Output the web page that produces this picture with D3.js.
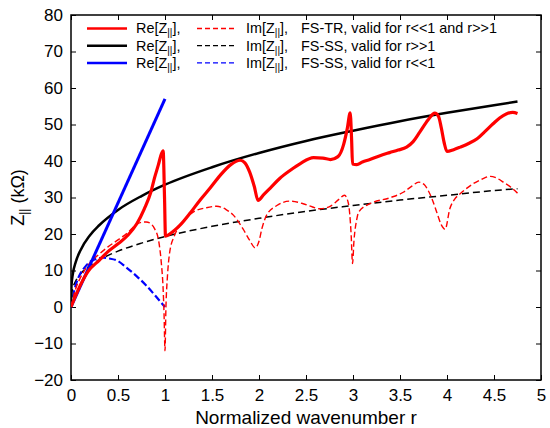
<!DOCTYPE html>
<html>
<head>
<meta charset="UTF-8">
<title>Z parallel vs r</title>
<script src="https://d3js.org/d3.v7.min.js"></script>
<style>
    body { margin: 0; background: #fff; }
    text { font-family: Arial, "Liberation Sans", sans-serif; fill: #000; }
</style>
</head>
<body>
<div id="chart"></div>
<script>
// ---- data ----
const xTicks = [0, 0.5, 1, 1.5, 2, 2.5, 3, 3.5, 4, 4.5, 5];
const yTicks = [-20, -10, 0, 10, 20, 30, 40, 50, 60, 70, 80];

// FS-TR (red)
const trReR = [0, 0.1, 0.18, 0.3, 0.39, 0.5, 0.61, 0.7, 0.78, 0.85, 0.89, 0.93, 0.96, 0.98, 0.995, 1.005,
    1.05, 1.16, 1.27, 1.37, 1.48, 1.585, 1.7, 1.8, 1.85, 1.9, 1.95, 1.99, 2.05, 2.12, 2.22, 2.33, 2.44,
    2.58, 2.68, 2.76, 2.84, 2.9, 2.94, 2.97, 2.985, 2.995, 3.04, 3.1, 3.18, 3.28, 3.39, 3.48, 3.57, 3.64,
    3.71, 3.8, 3.87, 3.91, 3.94, 3.97, 4.0, 4.07, 4.14, 4.23, 4.32, 4.4, 4.49, 4.56, 4.63, 4.7, 4.75];
const trRe = [0, 6.0, 9.7, 12.8, 15.1, 17.3, 19.8, 22.8, 26.9, 31.5, 35.5, 39.0, 41.8, 42.8, 30, 19.4,
    20.0, 22.4, 25.8, 29.2, 32.6, 36.0, 39.0, 40.2, 39.5, 37.0, 33.0, 29.2, 30.8, 32.6, 35.2, 37.4, 39.3,
    40.9, 40.8, 40.4, 41.2, 44.5, 49.0, 53.2, 46.0, 39.2, 39.0, 39.7, 40.4, 41.4, 42.3, 43.0, 43.8, 45.3,
    47.9, 51.3, 53.1, 52.2, 49.0, 45.0, 42.6, 43.1, 43.8, 44.8, 46.1, 48.0, 50.2, 51.8, 52.9, 53.3, 53.0];

const trImR = [0, 0.05, 0.1, 0.18, 0.3, 0.39, 0.5, 0.61, 0.68, 0.75, 0.8, 0.85, 0.89, 0.93, 0.96, 0.98,
    0.99, 1.0, 1.01, 1.025, 1.05, 1.1, 1.16, 1.23, 1.3, 1.44, 1.55, 1.65, 1.73, 1.83, 1.9, 1.96, 2.0, 2.03,
    2.08, 2.19, 2.33, 2.47, 2.57, 2.65, 2.77, 2.85, 2.91, 2.95, 2.98, 2.995, 3.01, 3.04, 3.06, 3.18, 3.39,
    3.54, 3.63, 3.7, 3.76, 3.8, 3.85, 3.89, 3.94, 3.98, 4.03, 4.08, 4.14, 4.28, 4.37, 4.46, 4.53, 4.6,
    4.68, 4.75];
const trIm = [0, 5.0, 8.0, 11.4, 14.5, 16.4, 18.4, 20.5, 22.3, 23.2, 23.3, 22.8, 21.4, 18.5, 12.3, 5.0,
    -2.0, -12.0, 0, 8.0, 15.0, 19.5, 22.4, 24.6, 26.0, 27.2, 27.6, 26.7, 25.1, 21.4, 18.3, 16.2, 18.0, 21.4,
    25.1, 27.8, 29.0, 28.3, 27.4, 26.9, 27.8, 29.5, 30.6, 28.5, 20.0, 11.9, 18.0, 24.0, 26.0, 28.3, 29.9,
    31.5, 33.2, 34.2, 33.5, 31.9, 29.0, 26.0, 22.5, 21.3, 26.9, 29.5, 31.0, 33.8, 35.0, 35.8, 35.3, 34.2,
    32.8, 31.2];

// FS-SS, valid for r>>1 (black)
const ssR = [0, 0.005, 0.02, 0.05, 0.1, 0.2, 0.3, 0.5, 0.75, 1, 1.5, 2, 2.5, 3, 3.5, 4, 4.5, 4.75];
const ssRe = [0, 5.7, 9.1, 12.3, 15.5, 19.6, 22.4, 26.6, 30.4, 33.5, 38.3, 42.2, 45.5, 48.3, 50.9, 53.2, 55.3, 56.3];
const ssIm = [0, 3.3, 5.2, 7.1, 9.0, 11.3, 12.9, 15.3, 17.5, 19.3, 22.1, 24.3, 26.2, 27.8, 29.3, 30.6, 31.9, 32.4];

// FS-SS, valid for r<<1 (blue)
const lowReR = [0, 1];
const lowRe = [0, 57];
const lowImR = [0, 0.03, 0.06, 0.1, 0.15, 0.2, 0.25, 0.3, 0.35, 0.4, 0.5, 0.59, 0.7, 0.8, 0.9, 0.95, 1.0];
const lowIm = [0, 4.0, 6.8, 9.2, 11.0, 12.3, 13.0, 13.4, 13.5, 13.3, 12.6, 10.8, 8.4, 5.9, 3.0, 1.5, 0];

const legendDesc = ["FS-TR, valid for r<<1 and r>>1", "FS-SS, valid for r>>1", "FS-SS, valid for r<<1"];
const legendColors = ["#ff0000", "#000000", "#0000ff"];

// ---- layout ----
const width = 550, height = 428;
const margin = {top: 15, right: 9, bottom: 48, left: 71};

const svg = d3.select("#chart").append("svg")
    .attr("width", width)
    .attr("height", height);

const x = d3.scaleLinear().domain([0, 5]).range([margin.left, width - margin.right]);
const y = d3.scaleLinear().domain([-20, 80]).range([height - margin.bottom, margin.top]);

// inward ticks on all four sides
const tickLen = 5;
svg.append("g")
    .attr("transform", "translate(0," + (height - margin.bottom) + ")")
    .call(d3.axisBottom(x).tickValues(xTicks).tickSize(-tickLen).tickPadding(9).tickFormat(d3.format("")))
    .call(g => g.select(".domain").remove());
svg.append("g")
    .attr("transform", "translate(0," + margin.top + ")")
    .call(d3.axisTop(x).tickValues(xTicks).tickSize(-tickLen).tickFormat(""))
    .call(g => g.select(".domain").remove());
svg.append("g")
    .attr("transform", "translate(" + margin.left + ",0)")
    .call(d3.axisLeft(y).tickValues(yTicks).tickSize(-tickLen).tickPadding(8))
    .call(g => g.select(".domain").remove());
svg.append("g")
    .attr("transform", "translate(" + (width - margin.right) + ",0)")
    .call(d3.axisRight(y).tickValues(yTicks).tickSize(-tickLen).tickFormat(""))
    .call(g => g.select(".domain").remove());

svg.selectAll(".tick line").attr("stroke", "#000").attr("stroke-width", 1);
svg.selectAll(".tick text").style("font-size", "17px").style("font-family", "Arial, 'Liberation Sans', sans-serif");

// frame
svg.append("rect")
    .attr("x", margin.left).attr("y", margin.top)
    .attr("width", width - margin.left - margin.right)
    .attr("height", height - margin.top - margin.bottom)
    .attr("fill", "none").attr("stroke", "#000").attr("stroke-width", 1.5);

// clip
svg.append("clipPath").attr("id", "clip")
    .append("rect")
    .attr("x", margin.left).attr("y", margin.top)
    .attr("width", width - margin.left - margin.right)
    .attr("height", height - margin.top - margin.bottom);

const line = d3.line()
    .x(d => x(d[0]))
    .y(d => y(d[1]))
    .curve(d3.curveMonotoneX);

const zip = (a, b) => a.map((v, i) => [v, b[i]]);

const series = [
    {pts: zip(ssR, ssIm), color: "#000", width: 1.5, dash: "7,4"},
    {pts: zip(lowImR, lowIm), color: "#0000ff", width: 2.2, dash: "7,3"},
    {pts: zip(trImR, trIm), color: "#ff0000", width: 1.4, dash: "6,3"},
    {pts: zip(ssR, ssRe), color: "#000", width: 2.5, dash: null},
    {pts: zip(lowReR, lowRe), color: "#0000ff", width: 3, dash: null},
    {pts: zip(trReR, trRe), color: "#ff0000", width: 3.2, dash: null}
];

const plot = svg.append("g").attr("clip-path", "url(#clip)");
series.forEach(s => {
    plot.append("path")
        .datum(s.pts)
        .attr("d", line)
        .attr("fill", "none")
        .attr("stroke", s.color)
        .attr("stroke-width", s.width)
        .attr("stroke-dasharray", s.dash)
        .attr("stroke-linejoin", "round");
});

// legend
const leg = svg.append("g");
legendDesc.forEach((desc, i) => {
    const ly = 28.5 + i * 17.2;
    leg.append("line")
        .attr("x1", 87).attr("x2", 127).attr("y1", ly).attr("y2", ly)
        .attr("stroke", legendColors[i]).attr("stroke-width", 2.5);
    leg.append("line")
        .attr("x1", 197).attr("x2", 234).attr("y1", ly).attr("y2", ly)
        .attr("stroke", legendColors[i]).attr("stroke-width", 1.3)
        .attr("stroke-dasharray", "5,3");

    const t1 = leg.append("text").attr("x", 136).attr("y", ly + 4.8).style("font-size", "14.4px");
    t1.append("tspan").text("Re[Z");
    t1.append("tspan").attr("dy", 3).style("font-size", "10px").text("||");
    t1.append("tspan").attr("dy", -3).text("],");

    const t2 = leg.append("text").attr("x", 246).attr("y", ly + 4.8).style("font-size", "14.4px");
    t2.append("tspan").text("Im[Z");
    t2.append("tspan").attr("dy", 3).style("font-size", "10px").text("||");
    t2.append("tspan").attr("dy", -3).text("],");

    leg.append("text").attr("x", 301).attr("y", ly + 4.8).style("font-size", "14.4px").text(desc);
});

// axis titles
svg.append("text")
    .attr("x", (margin.left + width - margin.right) / 2)
    .attr("y", 424)
    .attr("text-anchor", "middle")
    .style("font-size", "19px")
    .text("Normalized wavenumber r");

const yl = svg.append("text")
    .attr("transform", "translate(24," + ((margin.top + height - margin.bottom) / 2) + ") rotate(-90)")
    .attr("text-anchor", "middle")
    .style("font-size", "18px");
yl.append("tspan").text("Z");
yl.append("tspan").attr("dy", 4).style("font-size", "12px").text("||");
yl.append("tspan").attr("dy", -4).text(" (kΩ)");
</script>
</body>
</html>
